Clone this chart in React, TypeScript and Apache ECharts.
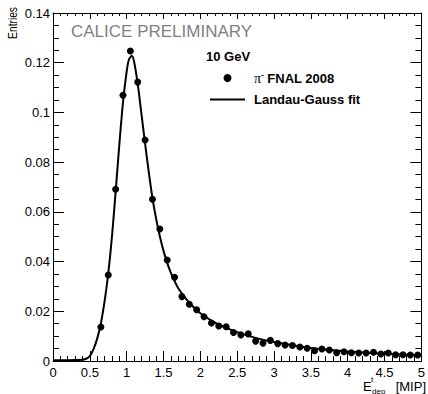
import React, { useEffect, useRef } from "react";
import * as echarts from "echarts";

const FONT = "'Liberation Sans', Arial, Helvetica, sans-serif";

// Data points (bin centres, MIP) and normalised entries
const binCenters = [
  0.65, 0.75, 0.85, 0.95, 1.05, 1.15, 1.25, 1.35, 1.45, 1.55, 1.65, 1.75, 1.85, 1.95,
  2.05, 2.15, 2.25, 2.35, 2.45, 2.55, 2.65, 2.75, 2.85, 2.95, 3.05, 3.15, 3.25, 3.35,
  3.45, 3.55, 3.65, 3.75, 3.85, 3.95, 4.05, 4.15, 4.25, 4.35, 4.45, 4.55, 4.65, 4.75,
  4.85, 4.95,
];
const entries = [
  0.0137, 0.0346, 0.0691, 0.1069, 0.1247, 0.1122, 0.0889, 0.0651, 0.0531, 0.0406, 0.0337,
  0.0259, 0.0228, 0.0206, 0.0178, 0.0153, 0.0141, 0.0138, 0.0115, 0.0105, 0.0109, 0.008,
  0.0072, 0.0083, 0.007, 0.0064, 0.0062, 0.0056, 0.0051, 0.0041, 0.0048, 0.0044, 0.0033,
  0.0037, 0.0033, 0.0032, 0.0032, 0.0035, 0.0028, 0.0032, 0.0025, 0.0025, 0.0024, 0.0024,
];

// Landau-Gauss fit curve
const fitX = [
  0, 0.2, 0.4, 0.45, 0.5, 0.55, 0.6, 0.65, 0.7, 0.75, 0.8, 0.85, 0.9, 0.95, 1.0, 1.03,
  1.07, 1.1, 1.15, 1.2, 1.25, 1.3, 1.35, 1.4, 1.45, 1.5, 1.55, 1.6, 1.65, 1.7, 1.8, 1.9,
  2.0, 2.2, 2.4, 2.6, 2.8, 3.0, 3.5, 4.0, 4.5, 5.0,
];
const fitY = [
  0.0003, 0.0003, 0.0005, 0.0009, 0.002, 0.0048, 0.009, 0.0152, 0.024, 0.0352, 0.05,
  0.068, 0.087, 0.104, 0.1165, 0.1212, 0.1228, 0.1205, 0.1115, 0.0995, 0.0875, 0.076,
  0.0655, 0.0572, 0.0502, 0.0443, 0.0395, 0.0355, 0.0322, 0.0293, 0.0252, 0.0219, 0.0192,
  0.0154, 0.0127, 0.0106, 0.0089, 0.0076, 0.0052, 0.0038, 0.0029, 0.0023,
];

const xTicks = { min: 0, max: 5, interval: 0.5 };
const yTicks = { min: 0, max: 0.14, interval: 0.02 };

export default function App() {
  const ref = useRef<HTMLDivElement>(null);
  useEffect(() => {
    if (!ref.current) return;
    const chart = echarts.init(ref.current, null, { renderer: "svg" });
    const axisLine = { show: true, onZero: false, lineStyle: { color: "#000", width: 1 } };
    const labelStyle = { color: "#000", fontSize: 13, fontFamily: FONT };
    chart.setOption({
      animation: false,
      backgroundColor: "#fff",
      grid: { left: 53, right: 2, top: 13, bottom: 33, containLabel: false },
      xAxis: [
        {
          type: "value",
          ...xTicks,
          axisLine,
          axisTick: { show: true, inside: true, length: 10, lineStyle: { color: "#000" } },
          minorTick: { show: true, splitNumber: 5, length: 5, lineStyle: { color: "#000" } },
          splitLine: { show: false },
          axisLabel: { ...labelStyle, margin: 5, showMaxLabel: true },
        },
        {
          type: "value",
          position: "top",
          ...xTicks,
          axisLine,
          axisTick: { show: true, inside: true, length: 6, lineStyle: { color: "#000" } },
          minorTick: { show: true, splitNumber: 5, length: 3, lineStyle: { color: "#000" } },
          splitLine: { show: false },
          axisLabel: { show: false },
        },
      ],
      yAxis: [
        {
          type: "value",
          ...yTicks,
          axisLine,
          axisTick: { show: true, inside: true, length: 11, lineStyle: { color: "#000" } },
          minorTick: { show: true, splitNumber: 4, length: 6, lineStyle: { color: "#000" } },
          splitLine: { show: false },
          axisLabel: { ...labelStyle, margin: 3 },
        },
        {
          type: "value",
          position: "right",
          ...yTicks,
          axisLine,
          axisTick: { show: true, inside: true, length: 11, lineStyle: { color: "#000" } },
          minorTick: { show: true, splitNumber: 4, length: 6, lineStyle: { color: "#000" } },
          splitLine: { show: false },
          axisLabel: { show: false },
        },
      ],
      legend: {
        orient: "vertical",
        left: 210,
        top: 70,
        padding: 0,
        itemGap: 8,
        itemWidth: 35,
        itemHeight: 8,
        selectedMode: false,
        data: [
          { name: "pi", icon: "circle", itemStyle: { color: "#000", opacity: 1 } },
          { name: "Landau-Gauss fit", icon: "path://M0 0H35V2H0Z", itemStyle: { color: "#000" } },
        ],
        formatter: (name: string) =>
          name === "pi" ? "{pi|π}{sup|-}{b| FNAL 2008}" : "{b|" + name + "}",
        textStyle: {
          padding: [0, 0, 0, 4],
          rich: {
            b: { fontSize: 13, fontWeight: "bold", fontFamily: FONT, color: "#000" },
            pi: { fontSize: 14, fontFamily: "'Liberation Serif', serif", color: "#000" },
            sup: { fontSize: 8, fontWeight: "bold", fontFamily: FONT, color: "#000", padding: [0, 0, 8, 0] },
          },
        },
      },
      graphic: [
        {
          type: "text",
          left: 71,
          top: 23,
          style: { text: "CALICE PRELIMINARY", fontSize: 17, fontFamily: FONT, fill: "#7f7f7f" },
        },
        {
          type: "text",
          left: 206,
          top: 50,
          style: { text: "10 GeV", fontSize: 13, fontWeight: "bold", fontFamily: FONT, fill: "#000" },
        },
        {
          type: "text",
          x: 13,
          y: 7,
          rotation: Math.PI / 2,
          scaleX: 0.82,
          style: {
            text: "Entries",
            fontSize: 12.5,
            fontFamily: FONT,
            fill: "#000",
            align: "right",
            verticalAlign: "middle",
          },
        },
        {
          type: "text",
          x: 363,
          y: 386,
          style: { text: "E", fontSize: 13, fontFamily: FONT, fill: "#000", verticalAlign: "middle" },
        },
        {
          type: "text",
          x: 371,
          y: 379,
          style: { text: "t", fontSize: 8, fontFamily: FONT, fill: "#000", verticalAlign: "middle" },
        },
        {
          type: "text",
          x: 372,
          y: 391,
          style: { text: "dep", fontSize: 8, fontFamily: FONT, fill: "#000", verticalAlign: "middle" },
        },
        {
          type: "text",
          x: 426,
          y: 386,
          style: {
            text: "[MIP]",
            fontSize: 13,
            fontFamily: FONT,
            fill: "#000",
            align: "right",
            verticalAlign: "middle",
          },
        },
      ],
      series: [
        {
          name: "Landau-Gauss fit",
          type: "line",
          data: fitX.map((x, i) => [x, fitY[i]]),
          symbol: "none",
          smooth: 0.3,
          lineStyle: { color: "#000", width: 2 },
          itemStyle: { color: "#000" },
          z: 2,
        },
        {
          name: "pi",
          type: "scatter",
          data: binCenters.map((x, i) => [x, entries[i]]),
          symbol: "circle",
          symbolSize: 7,
          itemStyle: { color: "#000", opacity: 1 },
          z: 3,
        },
      ],
    });
    return () => chart.dispose();
  }, []);
  return <div ref={ref} style={{ width: 428, height: 394, position: "absolute", left: 0, top: 0 }} />;
}
